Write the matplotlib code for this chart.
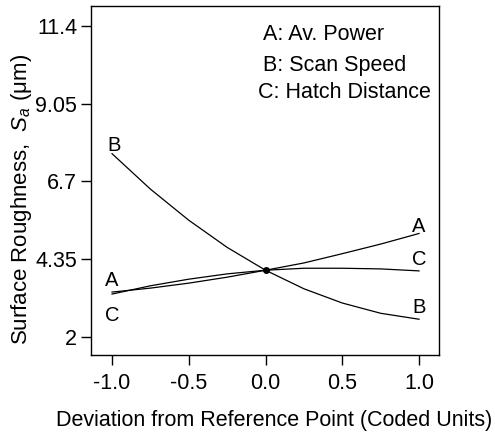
import matplotlib
matplotlib.use("Agg")
import matplotlib.pyplot as plt
import numpy as np

# coded deviation from reference point
dev = [-1.0, -0.75, -0.5, -0.25, 0.0, 0.25, 0.5, 0.75, 1.0]

# surface roughness Sa (um)
power = [3.36, 3.48, 3.63, 3.81, 4.02, 4.24, 4.52, 4.81, 5.13]
speed = [7.54, 6.47, 5.53, 4.71, 4.02, 3.46, 3.03, 2.72, 2.54]
hatch = [3.30, 3.55, 3.75, 3.91, 4.02, 4.08, 4.08, 4.06, 4.00]

yticks = [2, 4.35, 6.7, 9.05, 11.4]
ytick_labels = ["2", "4.35", "6.7", "9.05", "11.4"]
xticks = [-1.0, -0.5, 0.0, 0.5, 1.0]
legend_lines = ["A: Av. Power", "B: Scan Speed", "C: Hatch Distance"]

plt.rcParams["font.family"] = ["Liberation Sans", "DejaVu Sans"]
plt.rcParams["mathtext.fontset"] = "custom"
plt.rcParams["mathtext.it"] = "Liberation Sans:italic"
plt.rcParams["mathtext.rm"] = "Liberation Sans"

W, H = 495, 434
fig = plt.figure(figsize=(W / 100, H / 100), dpi=100)
ax = fig.add_axes([91 / W, 1 - 355 / H, (439 - 91) / W, (355 - 6) / H])

for ys in (power, speed, hatch):
    ax.plot(dev, ys, color="black", lw=0.9)
ax.plot([0.0], [power[4]], "o", color="black", ms=4)

# curve letters
fs = 15.5
lfs = 14.5
ax.text(-1.0, 3.72, "A", fontsize=lfs, ha="center", va="center")
ax.text(-1.0, 2.66, "C", fontsize=lfs, ha="center", va="center")
ax.text(-0.99, 7.78, "B", fontsize=lfs, ha="center", va="center")
ax.text(1.0, 5.34, "A", fontsize=lfs, ha="center", va="center")
ax.text(1.0, 4.35, "C", fontsize=lfs, ha="center", va="center")
ax.text(1.0, 2.90, "B", fontsize=lfs, ha="center", va="center")

# factor key
ax.text(263 / W, 1 - 35 / H, legend_lines[0], fontsize=fs,
        transform=fig.transFigure, va="center")
ax.text(263 / W, 1 - 65 / H, legend_lines[1], fontsize=fs,
        transform=fig.transFigure, va="center")
ax.text(258 / W, 1 - 92 / H, legend_lines[2], fontsize=fs,
        transform=fig.transFigure, va="center")

ax.set_xlim(-1.137, 1.13)
ax.set_ylim(1.46, 12.0)
ax.set_xticks(xticks)
ax.set_xticklabels(["%.1f" % v for v in xticks])
ax.set_yticks(yticks)
ax.set_yticklabels(ytick_labels)
ax.tick_params(direction="out", length=7, width=1, labelsize=fs)
ax.tick_params(axis="x", pad=6)
ax.tick_params(axis="y", pad=3)
for s in ax.spines.values():
    s.set_linewidth(1)

ax.set_xlabel("Deviation from Reference Point (Coded Units)", fontsize=fs)
ax.xaxis.set_label_coords((274 - 91) / 348, (355 - 410) / 349)
ax.set_ylabel("Surface Roughness,  $S_a$ (μm)", fontsize=16)
ax.yaxis.set_label_coords((9 - 91) / 348, (355 - 199) / 349)
ax.yaxis.label.set_va("top")

plt.savefig("out.png", dpi=100)
